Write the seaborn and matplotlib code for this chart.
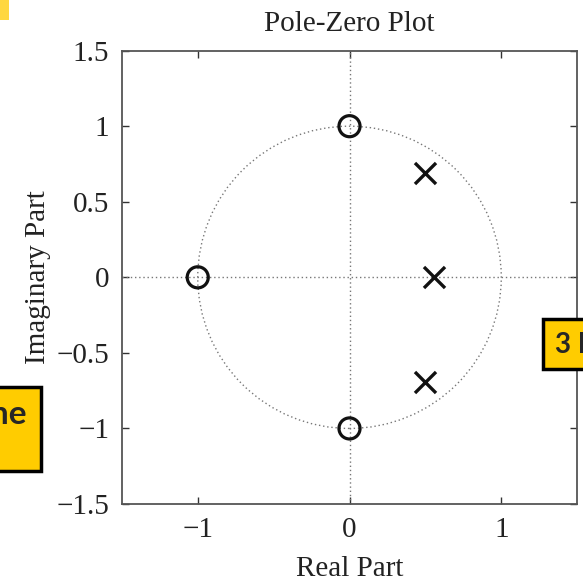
import numpy as np
import pandas as pd
import matplotlib
matplotlib.use("Agg")
import matplotlib.pyplot as plt
import matplotlib.patches as mpatches
import seaborn as sns

# Data
zeros_re = [0.0, -1.0, 0.0]
zeros_im = [1.0, 0.0, -1.0]
poles_re = [0.5, 0.556, 0.5]
poles_im = [0.69, 0.0, -0.69]
xticks = [-1, 0, 1]
yticks = [-1.5, -1, -0.5, 0, 0.5, 1, 1.5]
ytick_labels = ["\u22121.5", "\u22121", "\u22120.5", "0", "0.5", "1", "1.5"]
xtick_labels = ["\u22121", "0", "1"]

sns.set_theme(style="white")
plt.rcParams['font.family'] = ['Liberation Serif', 'DejaVu Serif']

fig = plt.figure(figsize=(5.83, 5.82), dpi=100)
ax = fig.add_axes([0.209, 0.134, 0.781, 0.779])

zdf = pd.DataFrame({"re": zeros_re, "im": zeros_im})
pdf = pd.DataFrame({"re": poles_re, "im": poles_im})

# reference lines & unit circle
ax.axhline(0, color="#777777", ls=(0, (1, 2)), lw=1.0, zorder=1)
ax.axvline(0, color="#777777", ls=(0, (1, 2)), lw=1.0, zorder=1)
ax.add_patch(mpatches.Circle((0, 0), 1.0, fill=False, ec="#777777",
                             ls=(0, (1, 2)), lw=1.0, zorder=1))

sns.scatterplot(data=zdf, x="re", y="im", ax=ax, marker="o", s=230,
                facecolor="none", edgecolor="#111111", linewidth=2.3, zorder=3)
sns.scatterplot(data=pdf, x="re", y="im", ax=ax, marker="x", s=230,
                color="#111111", linewidth=2.4, zorder=3)

ax.set_xlim(-1.5, 1.5)
ax.set_ylim(-1.5, 1.5)
ax.set_xticks(xticks)
ax.set_xticklabels(xtick_labels)
ax.set_yticks(yticks)
ax.set_yticklabels(ytick_labels)
ax.tick_params(direction="in", length=5, width=1, colors="#333333",
               labelsize=21, labelcolor="#222222", top=True, right=True,
               left=True, bottom=True, pad=9)
for s in ax.spines.values():
    s.set_color("#555555")
    s.set_linewidth(1.3)
ax.set_xlabel("Real Part", fontsize=21, color="#222222", labelpad=10)
ax.set_ylabel("Imaginary Part", fontsize=21, color="#222222", labelpad=4)
ax.set_title("Pole-Zero Plot", fontsize=21, color="#222222", pad=14)

# overlay boxes from the slide
yellow = "#FFCC00"
b1 = mpatches.Rectangle((-0.01, (582 - 471) / 582), 47 / 583, 84 / 582,
                        transform=fig.transFigure, fc=yellow, ec="black", lw=2.5)
fig.patches.append(b1)
fig.text(27 / 583, (582 - 414) / 582, "ne", transform=fig.transFigure, fontsize=24,
         fontweight="bold", family=["Lato", "DejaVu Sans"], va="center", ha="right")
b2 = mpatches.Rectangle((543 / 583, (582 - 369) / 582), 0.1, 50 / 582,
                        transform=fig.transFigure, fc=yellow, ec="black", lw=2.5)
fig.patches.append(b2)
fig.text(555 / 583, (582 - 345) / 582, "3 I", transform=fig.transFigure, fontsize=20,
         fontweight="bold", family=["Lato", "DejaVu Sans"], va="center", ha="left")
b3 = mpatches.Rectangle((0, (582 - 20) / 582), 9 / 583, 20 / 582,
                        transform=fig.transFigure, fc="#FFD740", ec="none")
fig.patches.append(b3)

fig.savefig("out.png", dpi=100)
